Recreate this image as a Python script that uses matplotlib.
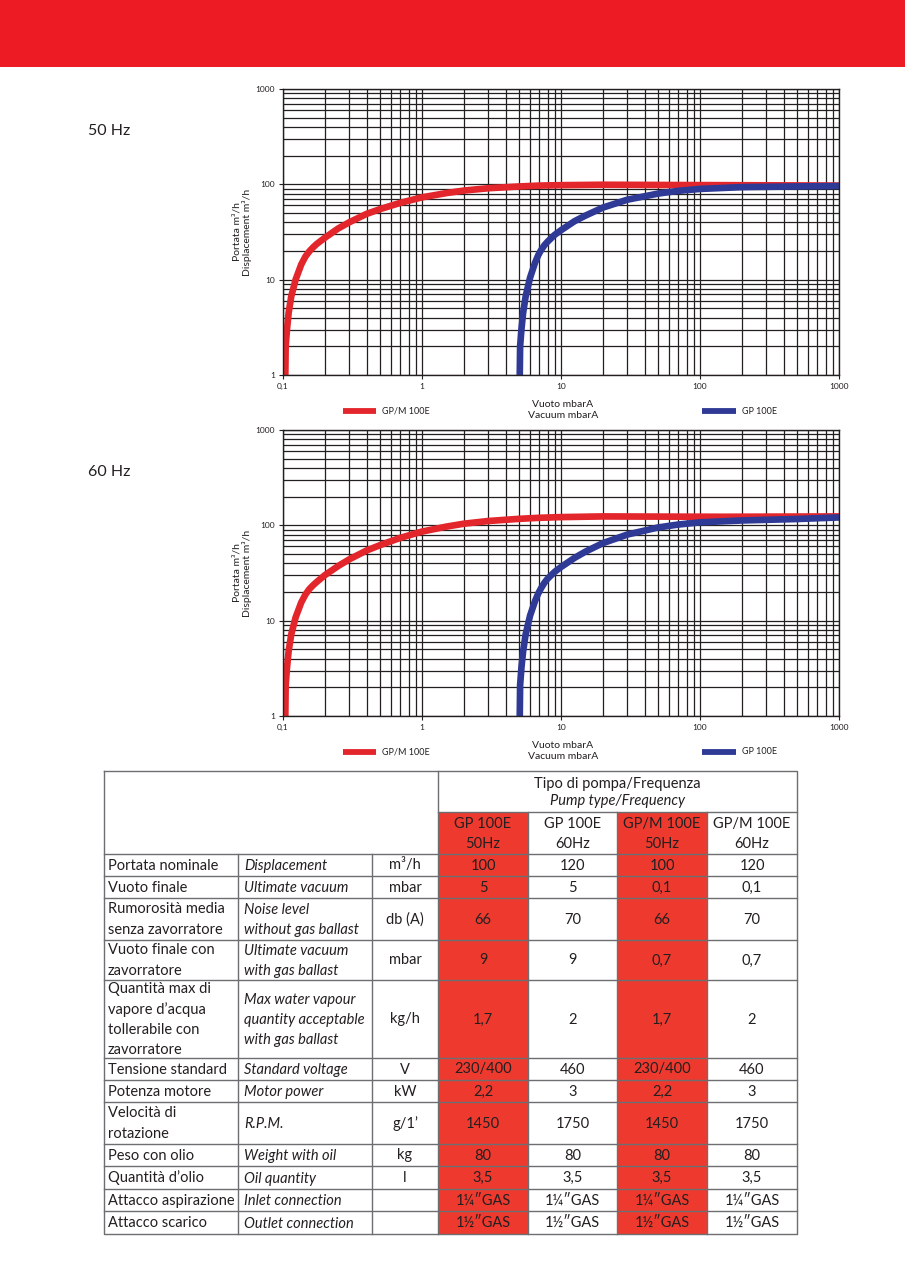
import matplotlib
# Agg backend, no display in the sandbox
matplotlib.use("Agg")
import matplotlib.pyplot as plt
from matplotlib.patches import Rectangle
from matplotlib.ticker import LogLocator, NullFormatter

plt.rcParams['font.family'] = ['Lato', 'DejaVu Sans']

HEAD_RED = '#ed1c24'
CELL_RED = '#ee3a2e'
CURVE_RED = '#e3262c'
CURVE_BLUE = '#2e3a96'
INK = '#231f20'
BORDER = '#6d6e71'

W, H = 905, 1280

# ---- curve data: vacuum (mbarA) -> displacement (m3/h)
red_p = [0.1039, 0.1045, 0.1068, 0.1098, 0.1147, 0.1232, 0.1352, 0.145, 0.155, 0.165, 0.175,
         0.2, 0.25, 0.3, 0.4, 0.5, 0.7, 1, 1.5, 2, 3, 5, 7, 10, 20, 50, 150, 400, 1000]
red50_q = [1, 2, 3, 4.5, 6.7, 10, 14.4, 17.5, 19.9, 21.9, 23.7,
           27.5, 34.5, 40, 49, 55, 64, 73, 81, 86, 91, 95, 97, 98, 99, 98.5, 98, 97.5, 97]
red60_q = [1, 2.1, 3.2, 4.8, 7.2, 10.8, 15.5, 18.8, 21.5, 23.6, 25.5,
           30, 37.5, 44, 54.5, 62, 74, 86, 97, 104, 111, 117, 120, 122, 124, 123.5, 123, 123.5, 124]

blue_p = [5.05, 5.08, 5.19, 5.34, 5.57, 5.99, 6.5, 6.85, 7.2, 7.6, 8, 9, 10, 12.5, 15, 20, 30,
          50, 70, 100, 200, 500, 1000]
blue50_q = [1, 2, 3, 4.5, 6.7, 10.5, 15, 18, 20.5, 23, 25, 29.5, 33, 41, 47, 57, 69,
            80, 85.5, 89.5, 93.5, 95, 96]
blue60_q = [1, 2.1, 3.2, 4.8, 7.2, 11.3, 16, 19.2, 22, 25, 27.5, 32.5, 36.5, 45.5, 53, 65, 80,
            95, 102, 107.5, 112.5, 116.5, 121]

x_ticks = [0.1, 1, 10, 100, 1000]
x_ticklabels = ['0,1', '1', '10', '100', '1000']
y_ticks = [1, 10, 100, 1000]
y_ticklabels = ['1', '10', '100', '1000']

# ---- table data
row_it = ['Portata nominale', 'Vuoto finale', 'Rumorosità media\nsenza zavorratore',
          'Vuoto finale con\nzavorratore',
          'Quantità max di\nvapore d’acqua\ntollerabile con\nzavorratore',
          'Tensione standard', 'Potenza motore', 'Velocità di\nrotazione',
          'Peso con olio', 'Quantità d’olio', 'Attacco aspirazione', 'Attacco scarico']
row_en = ['Displacement', 'Ultimate vacuum', 'Noise level\nwithout gas ballast',
          'Ultimate vacuum\nwith gas ballast',
          'Max water vapour\nquantity acceptable\nwith gas ballast',
          'Standard voltage', 'Motor power', 'R.P.M.', 'Weight with oil',
          'Oil quantity', 'Inlet connection', 'Outlet connection']
row_unit = ['m³/h', 'mbar', 'db (A)', 'mbar', 'kg/h', 'V', 'kW', 'g/1’', 'kg', 'l', '', '']
pump_headers = ['GP 100E\n50Hz', 'GP 100E\n60Hz', 'GP/M 100E\n50Hz', 'GP/M 100E\n60Hz']
gp100e_50 = ['100', '5', '66', '9', '1,7', '230/400', '2,2', '1450', '80', '3,5', '1¼″GAS', '1½″GAS']
gp100e_60 = ['120', '5', '70', '9', '2', '460', '3', '1750', '80', '3,5', '1¼″GAS', '1½″GAS']
gpm100e_50 = ['100', '0,1', '66', '0,7', '1,7', '230/400', '2,2', '1450', '80', '3,5', '1¼″GAS', '1½″GAS']
gpm100e_60 = ['120', '0,1', '70', '0,7', '2', '460', '3', '1750', '80', '3,5', '1¼″GAS', '1½″GAS']
value_cols = [gp100e_50, gp100e_60, gpm100e_50, gpm100e_60]
red_cols = [True, False, True, False]

# layout in page pixels
col_edges = [104, 238, 372, 438, 528, 617, 707, 797]
row_edges = [854, 876, 898, 940, 980, 1058, 1080, 1102, 1144, 1166, 1189, 1211, 1234]
table_top, header_mid = 771, 812


def rect(left, top, right, bottom):
    return [left / W, 1 - bottom / H, (right - left) / W, (bottom - top) / H]


fig = plt.figure(figsize=(W / 100, H / 100), dpi=100)

page = fig.add_axes([0, 0, 1, 1])
page.set_xlim(0, W)
page.set_ylim(H, 0)
page.axis('off')
page.add_patch(Rectangle((0, 0), W, 67, color=HEAD_RED, lw=0))


def draw_chart(top, bottom, red_q, blue_q, hz_label):
    ax = fig.add_axes(rect(283, top, 839, bottom))
    ax.set_xscale('log')
    ax.set_yscale('log')
    ax.set_xlim(0.1, 1000)
    ax.set_ylim(1, 1000)
    ax.set_axisbelow(True)
    ax.xaxis.set_minor_locator(LogLocator(base=10, subs=range(2, 10)))
    ax.yaxis.set_minor_locator(LogLocator(base=10, subs=range(2, 10)))
    ax.xaxis.set_minor_formatter(NullFormatter())
    ax.yaxis.set_minor_formatter(NullFormatter())
    ax.set_xticks(x_ticks)
    ax.set_xticklabels(x_ticklabels)
    ax.set_yticks(y_ticks)
    ax.set_yticklabels(y_ticklabels)
    ax.grid(which='both', color=INK, lw=0.9)
    ax.tick_params(which='major', length=3, width=0.8, labelsize=6, colors=INK, pad=3)
    ax.tick_params(which='minor', length=0)
    for s in ax.spines.values():
        s.set_color(INK)
        s.set_linewidth(1.0)

    ax.plot(red_p, red_q, color=CURVE_RED, lw=4.8, solid_capstyle='butt', solid_joinstyle='round')
    ax.plot(blue_p, blue_q, color=CURVE_BLUE, lw=4.8, solid_capstyle='butt', solid_joinstyle='round')

    ax.set_ylabel('Portata m³/h\nDisplacement m³/h', fontsize=7.5, color=INK, labelpad=2,
                  linespacing=1.15)

    # axis title and legend, placed on the page
    page.text(563, bottom + 35, 'Vuoto mbarA\nVacuum mbarA', ha='center', va='center',
              fontsize=7.5, color=INK, linespacing=1.15)
    ly = bottom + 36
    page.plot([343, 376], [ly, ly], color=CURVE_RED, lw=4.2, solid_capstyle='butt')
    page.text(382, ly, 'GP/M 100E', ha='left', va='center', fontsize=6.5, color=INK)
    page.plot([702, 736], [ly, ly], color=CURVE_BLUE, lw=4.2, solid_capstyle='butt')
    page.text(742, ly, 'GP 100E', ha='left', va='center', fontsize=6.5, color=INK)

    page.text(88, top + 42, hz_label, ha='left', va='center', fontsize=11.5, color=INK)


draw_chart(89, 375, red50_q, blue50_q, '50 Hz')
draw_chart(430, 716, red60_q, blue60_q, '60 Hz')

# ---- table
tbl_bottom = row_edges[-1]
for i, is_red in enumerate(red_cols):
    if is_red:
        c0, c1 = col_edges[3 + i], col_edges[4 + i]
        page.add_patch(Rectangle((c0, header_mid), c1 - c0, tbl_bottom - header_mid,
                                 color=CELL_RED, lw=0, zorder=1))

lkw = dict(color=BORDER, lw=1.0, zorder=3)
left, right = col_edges[0], col_edges[-1]
page.plot([left, right, right, left, left],
          [table_top, table_top, tbl_bottom, tbl_bottom, table_top], **lkw)
page.plot([col_edges[3], right], [header_mid, header_mid], **lkw)
for y in row_edges[:-1]:
    page.plot([left, right], [y, y], **lkw)
page.plot([col_edges[3], col_edges[3]], [table_top, tbl_bottom], **lkw)
for x in col_edges[4:-1]:
    page.plot([x, x], [header_mid, tbl_bottom], **lkw)
for x in col_edges[1:3]:
    page.plot([x, x], [row_edges[0], tbl_bottom], **lkw)

FS = 10.5
LS = 1.55
hx = (col_edges[3] + right) / 2
page.text(hx, 784, 'Tipo di pompa/Frequenza', ha='center', va='center', fontsize=FS, color=INK)
page.text(hx, 801, 'Pump type/Frequency', ha='center', va='center', fontsize=FS,
          color=INK, style='italic')
for i, lab in enumerate(pump_headers):
    cx = (col_edges[3 + i] + col_edges[4 + i]) / 2
    page.text(cx, (header_mid + row_edges[0]) / 2 + 1, lab, ha='center', va='center',
              fontsize=FS, color=INK, linespacing=LS, zorder=4)

for r in range(len(row_it)):
    cy = (row_edges[r] + row_edges[r + 1]) / 2 + 0.5
    page.text(col_edges[0] + 4, cy, row_it[r], ha='left', va='center', fontsize=FS,
              color=INK, linespacing=LS, zorder=4)
    page.text(col_edges[1] + 6, cy + 0.75, row_en[r], ha='left', va='center', fontsize=FS,
              color=INK, style='italic', linespacing=LS, zorder=4)
    page.text((col_edges[2] + col_edges[3]) / 2, cy, row_unit[r], ha='center', va='center',
              fontsize=FS, color=INK, zorder=4)
    for i, vals in enumerate(value_cols):
        cx = (col_edges[3 + i] + col_edges[4 + i]) / 2
        page.text(cx, cy, vals[r], ha='center', va='center', fontsize=FS, color=INK, zorder=4)

fig.savefig('out.png', dpi=100)
plt.close(fig)
